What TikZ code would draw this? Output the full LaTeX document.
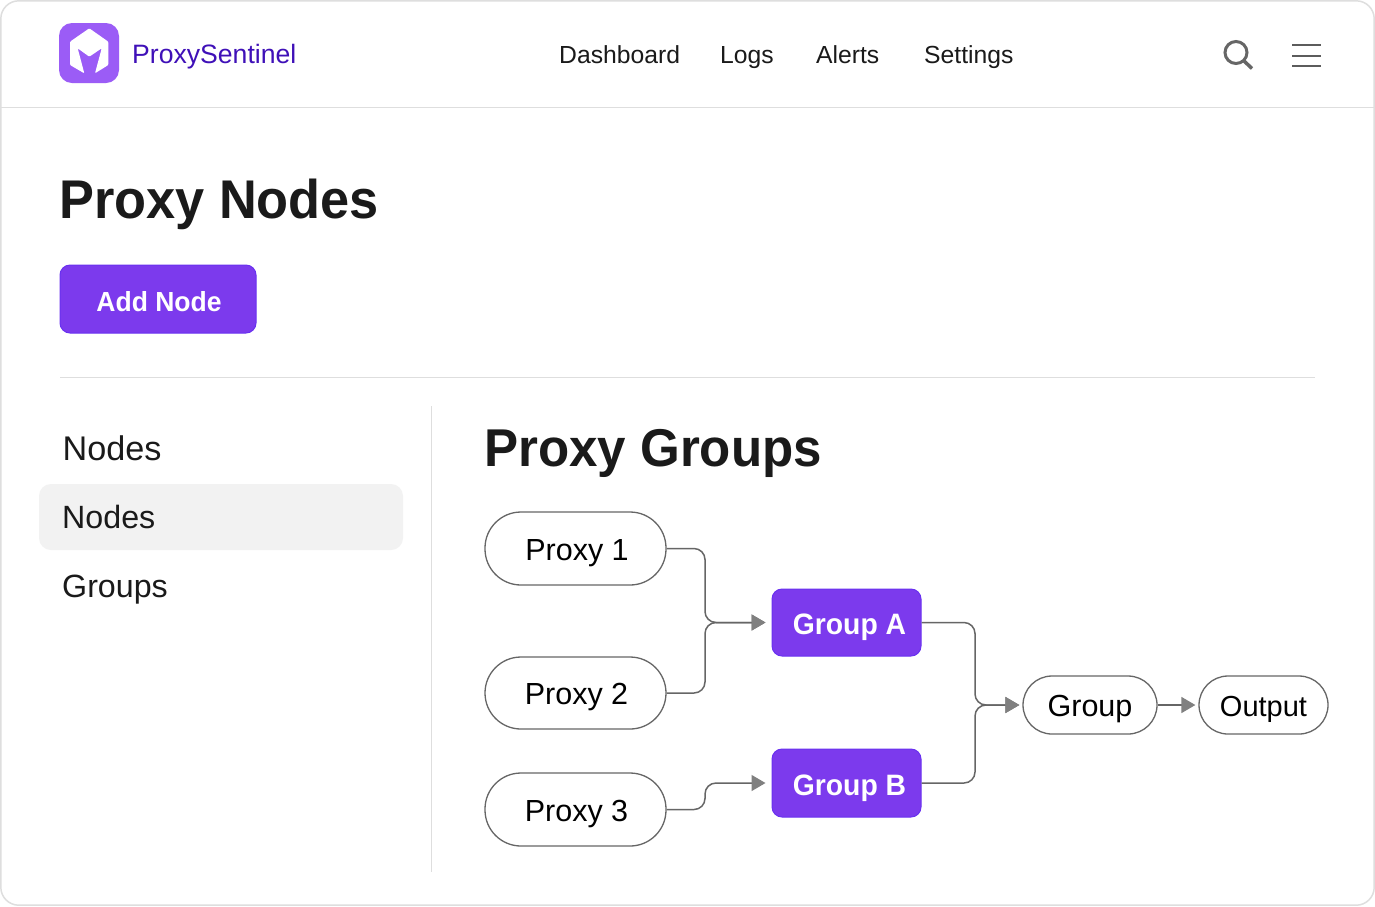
\documentclass[tikz,border=0pt]{standalone}
\usepackage{fontspec}
\setmainfont{Liberation Sans}
\newfontfamily\headfont{Liberation Sans}[FakeStretch=0.96]
\usetikzlibrary{arrows.meta}
\definecolor{brandpurple}{HTML}{7C3AED}
\definecolor{logopurple}{HTML}{9B5CF6}
\definecolor{brandink}{HTML}{3F10B8}
\definecolor{inkdark}{HTML}{1A1A1A}
\definecolor{ruleline}{HTML}{DEDEDE}
\definecolor{linegray}{HTML}{666666}
\definecolor{tipgray}{HTML}{808080}
\tikzset{
  pill/.style={draw=linegray, line width=1.3pt, fill=white, rounded corners=29pt, inner sep=0pt, text=black, text height=23pt, text depth=0pt, font=\fontsize{30.5}{32}\selectfont},
  groupbox/.style={draw=brandpurple!85!blue, line width=1pt, fill=brandpurple, rounded corners=10pt, inner sep=0pt, text=white, minimum width=149pt, minimum height=67pt, text height=24pt, text depth=0pt, font=\headfont\bfseries\fontsize{29.5}{32}\selectfont, execute at begin node=\hspace{6pt}},
  link/.style={draw=linegray, line width=1.5pt, rounded corners=11pt},
  arrowlink/.style={link, -{Triangle[length=14pt,width=16pt,color=tipgray]}},
  navtext/.style={anchor=base west, inner sep=0pt, text=inkdark, font=\fontsize{24.7}{28}\selectfont},
  sidetext/.style={anchor=base west, inner sep=0pt, text=inkdark, font=\fontsize{32.2}{36}\selectfont},
  headtext/.style={anchor=base west, inner sep=0pt, text=inkdark, font=\headfont\bfseries\fontsize{54.5}{60}\selectfont}
}
\begin{document}
\begin{tikzpicture}[x=1pt,y=-1pt]
\useasboundingbox (0,0) rectangle (1375,906);
% page frame and rules
\draw[ruleline, line width=1.5pt, fill=white, rounded corners=18pt] (0.8,0.8) rectangle (1374.2,905.2);
\draw[ruleline, line width=1.2pt] (0.8,107.5) -- (1374.2,107.5);
\draw[ruleline, line width=1.2pt] (60,377.5) -- (1315,377.5);
\draw[ruleline, line width=1.2pt] (431.5,406) -- (431.5,872);
% logo
\fill[logopurple, rounded corners=13pt] (59,23) rectangle (119,83);
\fill[white, rounded corners=1pt] (89.3,28.3) -- (108.3,41.7) -- (108.3,65) -- (95,73.3) -- (101.7,48.3) -- (89.3,56.7) -- (77.7,48.3) -- (84.3,73.3) -- (70,65) -- (70,41.7) -- cycle;
\node[anchor=base west, inner sep=0pt, text=brandink, font=\fontsize{26.6}{30}\selectfont] (brand) at (132,63.5) {ProxySentinel};
% top menu
\node[navtext] (dash) at (559,63) {Dashboard};
\node[navtext] (logs) at (720,63) {Logs};
\node[navtext] (alerts) at (816,63) {Alerts};
\node[navtext] (settings) at (924,63) {Settings};
% search and menu icons
\draw[linegray, line width=3pt] (1236,52.5) circle (11);
\draw[linegray, line width=3.5pt] (1244,61) -- (1252,68.5);
\draw[linegray!90!black, line width=2pt] (1292,45) -- (1321,45);
\draw[linegray!90!black, line width=2pt] (1292,55.7) -- (1321,55.7);
\draw[linegray!90!black, line width=2pt] (1292,66.3) -- (1321,66.3);
% page head
\node[headtext] (title) at (59,218) {Proxy Nodes};
\node[draw=brandpurple!85!blue, line width=1pt, fill=brandpurple, rounded corners=10pt, inner sep=0pt, minimum width=196pt, minimum height=68pt, text=white, text height=24pt, text depth=0pt, font=\headfont\bfseries\fontsize{27.6}{30}\selectfont] (addnode) at (158,299) {\hspace{2pt}Add Node};
% side menu
\fill[black!5, rounded corners=12pt] (39,484) rectangle (403,550);
\node[sidetext, font=\fontsize{34.2}{36}\selectfont] (side1) at (62.5,460.5) {Nodes};
\node[sidetext] (side2) at (62,528.5) {Nodes};
\node[sidetext] (side3) at (62,597.5) {Groups};
% graph
\node[headtext, font=\headfont\bfseries\fontsize{53.2}{60}\selectfont] (graphtitle) at (484,466.5) {Proxy Groups};
\node[pill, minimum width=181pt, minimum height=73pt, rounded corners=36pt, execute at begin node=\hspace{3pt}] (p1) at (575.5,548.5) {Proxy 1};
\node[pill, minimum width=181pt, minimum height=72pt, rounded corners=36pt, execute at begin node=\hspace{2pt}] (p2) at (575.5,693) {Proxy 2};
\node[pill, minimum width=181pt, minimum height=73pt, rounded corners=36pt, execute at begin node=\hspace{2pt}] (p3) at (575.5,809.5) {Proxy 3};
\node[groupbox] (a) at (846.5,622.5) {Group A};
\node[groupbox, minimum height=68pt] (b) at (846.5,783) {Group B};
\node[pill, minimum width=134pt, minimum height=58pt] (g) at (1090,705) {Group};
\node[pill, minimum width=129pt, minimum height=58pt, font=\fontsize{29}{32}\selectfont] (o) at (1263.5,705) {Output};
\coordinate (ja) at (705,622.5);
\coordinate (jb) at (705,783);
\coordinate (jg) at (975,705);
\draw[arrowlink, shorten >=6pt] (p1.east) -| (ja) -- (a.west);
\draw[arrowlink, shorten >=6pt] (p2.east) -| (ja) -- (a.west);
\draw[arrowlink, shorten >=6pt] (p3.east) -| (jb) -- (b.west);
\draw[arrowlink, shorten >=3pt] (a.east) -| (jg) -- (g.west);
\draw[arrowlink, shorten >=3pt] (b.east) -| (jg) -- (g.west);
\draw[arrowlink, shorten >=3pt] (g.east) -- (o.west);
\end{tikzpicture}
\end{document}
